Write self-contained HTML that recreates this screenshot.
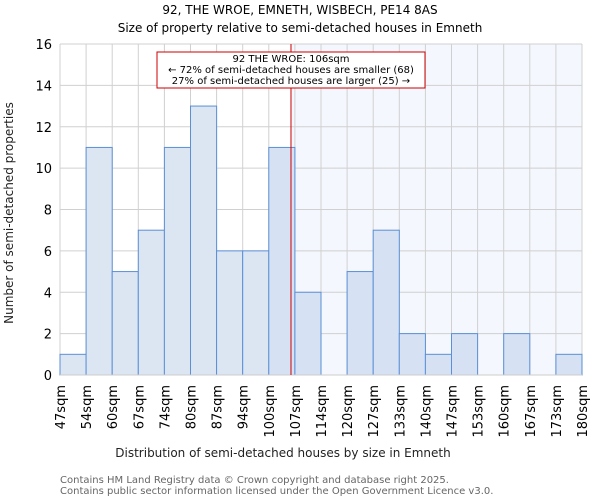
<!DOCTYPE html>
<html><head><meta charset="utf-8"><style>
body{margin:0;background:#fff;}
svg{display:block;font-family:"DejaVu Sans","Liberation Sans",sans-serif;}
</style></head><body>
<svg id="c" width="600" height="500">
<text x="300" y="14" text-anchor="middle" font-size="12" fill="#000">92, THE WROE, EMNETH, WISBECH, PE14 8AS</text>
<text x="300" y="32" text-anchor="middle" font-size="12" fill="#000">Size of property relative to semi-detached houses in Emneth</text>
<g id="plot"></g>
<text x="283" y="457" text-anchor="middle" font-size="12" fill="#222">Distribution of semi-detached houses by size in Emneth</text>
<text transform="translate(13,213) rotate(-90)" text-anchor="middle" font-size="12" fill="#222">Number of semi-detached properties</text>
<text x="60" y="483" font-size="10" fill="#666">Contains HM Land Registry data © Crown copyright and database right 2025.</text>
<text x="60" y="494" font-size="10" fill="#666">Contains public sector information licensed under the Open Government Licence v3.0.</text>
</svg>
<script>
const binLabels=["47sqm","54sqm","60sqm","67sqm","74sqm","80sqm","87sqm","94sqm","100sqm","107sqm","114sqm","120sqm","127sqm","133sqm","140sqm","147sqm","153sqm","160sqm","167sqm","173sqm","180sqm"];
const counts=[1,11,5,7,11,13,6,6,11,4,0,5,7,2,1,2,0,2,0,1];
const yTicks=[0,2,4,6,8,10,12,14,16];
const markerBin=8.85;
const L=60,R=582,T=44,B=375,yMax=16;
const n=counts.length,bw=(R-L)/n;
const xs=i=>L+i*bw, ys=v=>B-(v/yMax)*(B-T);
const NS="http://www.w3.org/2000/svg",g=document.getElementById('plot');
function mk(t,a){const e=document.createElementNS(NS,t);for(const k in a)e.setAttribute(k,a[k]);g.appendChild(e);return e;}
const mx=xs(markerBin);
let e=mk('rect',{x:mx,y:T,width:R-mx,height:B-T,fill:'#f4f7fd'});


for(let i=0;i<=n;i++){e=mk('line',{x1:xs(i),x2:xs(i),y1:T,y2:B,stroke:'#d0d0d0','stroke-width':1});

}
yTicks.forEach(v=>{e=mk('line',{x1:L,x2:R,y1:ys(v),y2:ys(v),stroke:'#d0d0d0','stroke-width':1});


e=mk('text',{x:L-8,y:ys(v)+5,'text-anchor':'end','font-size':13,fill:'#000'});e.textContent=v;

});
counts.forEach((c,i)=>{if(c<=0)return;
e=mk('rect',{x:xs(i),y:ys(c),width:bw,height:B-ys(c),fill:i+1>markerBin?'#d6e2f3':'#dce6f3',stroke:'#5b8fd6','stroke-width':1});

});
e=mk('line',{x1:L,x2:R,y1:B,y2:B,stroke:'#cccccc','stroke-width':1});
binLabels.forEach((s,i)=>{const x=xs(i);
e=mk('text',{transform:`translate(${x+5},${B+10}) rotate(-90)`,'text-anchor':'end','font-size':13,fill:'#000'});e.textContent=s;

});
e=mk('line',{x1:mx,x2:mx,y1:T,y2:B,stroke:'#cc0000','stroke-width':1});


e=mk('rect',{x:157,y:52,width:268,height:36,fill:'#fff',stroke:'#cc0000','stroke-width':1});


["92 THE WROE: 106sqm","← 72% of semi-detached houses are smaller (68)","27% of semi-detached houses are larger (25) →"].forEach((t,k)=>{
e=mk('text',{x:291,y:62+k*11,'text-anchor':'middle','font-size':10,fill:'#000'});e.textContent=t;

});
</script>
</body></html>
